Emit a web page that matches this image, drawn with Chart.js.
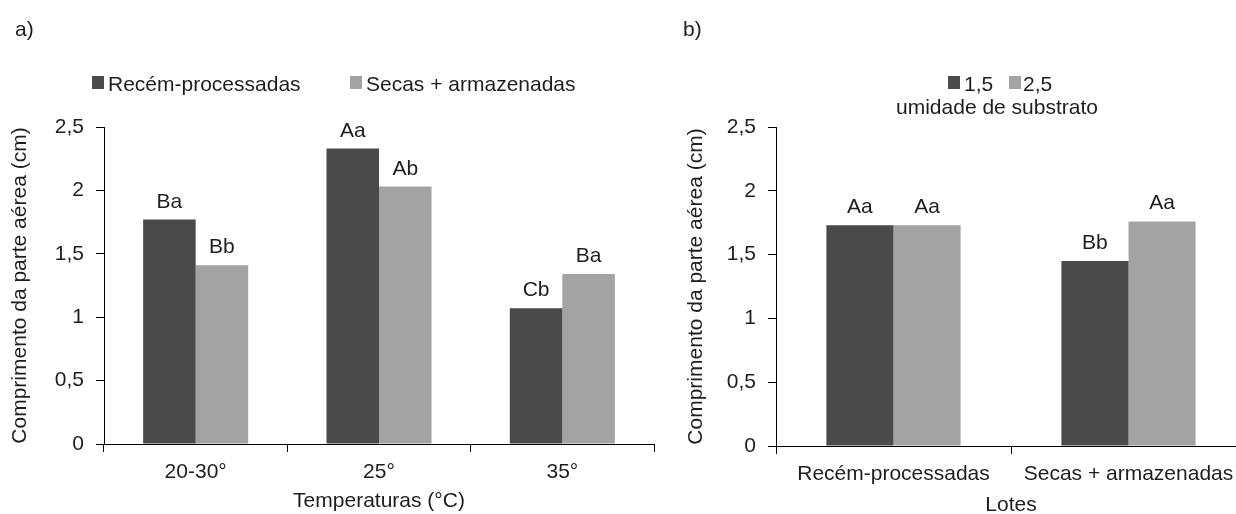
<!DOCTYPE html>
<html lang="pt">
<head>
<meta charset="utf-8">
<script src="https://cdn.jsdelivr.net/npm/chart.js@4/dist/chart.umd.min.js"></script>
<style>
    html, body { margin: 0; padding: 0; background: #fff; }
    #pagina { position: relative; width: 1236px; height: 514px; overflow: hidden; font-family: "Liberation Sans", Arial, sans-serif; color: #1e1e1e; }
    canvas { position: absolute; top: 0; }
    .txt { position: absolute; font-size: 21px; line-height: 21px; white-space: nowrap; }
    .quad { position: absolute; width: 12px; height: 13px; }
</style>
</head>
<body>
<div id="pagina">
    <canvas id="graficoA" width="656" height="514" style="left:0"></canvas>
    <canvas id="graficoB" width="572" height="518" style="left:676px"></canvas>

    <div class="txt" style="left:15px; top:18px">a)</div>
    <div class="txt" style="left:683px; top:18px">b)</div>

    <!-- legenda a -->
    <div class="quad" style="left:92px; top:76px; background:#4a4a4a"></div>
    <div class="txt" style="left:108px; top:73px">Recém-processadas</div>
    <div class="quad" style="left:350px; top:76px; background:#a3a3a3"></div>
    <div class="txt" style="left:366px; top:73px">Secas + armazenadas</div>

    <!-- legenda b -->
    <div class="quad" style="left:948px; top:76px; background:#4a4a4a"></div>
    <div class="txt" style="left:964px; top:73px">1,5</div>
    <div class="quad" style="left:1009px; top:76px; background:#a3a3a3"></div>
    <div class="txt" style="left:1023px; top:73px">2,5</div>
    <div class="txt" style="left:896px; top:96px">umidade de substrato</div>
</div>

<script>
// Dados
const categoriasA = ["20-30°", "25°", "35°"];
const recemA = [1.77, 2.33, 1.07];
const secasA = [1.41, 2.03, 1.34];
const letrasRecemA = ["Ba", "Aa", "Cb"];
const letrasSecasA = ["Bb", "Ab", "Ba"];

const categoriasB = ["Recém-processadas", "Secas + armazenadas"];
const umidade15 = [1.73, 1.45];
const umidade25 = [1.73, 1.76];
const letras15 = ["Aa", "Bb"];
const letras25 = ["Aa", "Aa"];

const rotulosY = ["0", "0,5", "1", "1,5", "2", "2,5"];

const COR_ESCURA = "#4a4a4a";
const COR_CLARA = "#a3a3a3";
const FONTE = { family: '"Liberation Sans", Arial, sans-serif', size: 21 };

// Letras acima das barras
const pluginLetras = {
    id: "letrasBarras",
    afterDatasetsDraw(chart, args, opts) {
        const ctx = chart.ctx;
        ctx.save();
        ctx.font = "21px " + FONTE.family;
        ctx.fillStyle = "#1e1e1e";
        ctx.textAlign = "center";
        ctx.textBaseline = "alphabetic";
        chart.data.datasets.forEach((ds, di) => {
            chart.getDatasetMeta(di).data.forEach((barra, i) => {
                ctx.fillText(opts.letras[di][i], barra.x, barra.y - 12);
            });
        });
        ctx.restore();
    }
};

function montarGrafico(id, categorias, serie1, serie2, letras, tituloX, larguraY, alturaX, percCat) {
    return new Chart(document.getElementById(id), {
        type: "bar",
        data: {
            labels: categorias,
            datasets: [
                { data: serie1, backgroundColor: COR_ESCURA, borderWidth: 0, categoryPercentage: percCat, barPercentage: 1 },
                { data: serie2, backgroundColor: COR_CLARA, borderWidth: 0, categoryPercentage: percCat, barPercentage: 1 }
            ]
        },
        options: {
            responsive: false,
            animation: false,
            devicePixelRatio: 1,
            layout: { padding: { top: 127, right: 2, left: 0, bottom: 0 } },
            plugins: {
                legend: { display: false },
                tooltip: { enabled: false },
                letrasBarras: { letras: letras }
            },
            scales: {
                x: {
                    grid: { drawOnChartArea: false, drawTicks: true, tickLength: 8, color: "#000", offset: true },
                    border: { color: "#000", width: 1 },
                    ticks: { color: "#1e1e1e", font: FONTE, padding: 8, maxRotation: 0 },
                    title: { display: true, text: tituloX, color: "#1e1e1e", font: FONTE, padding: { top: 0, bottom: 0 } },
                    afterFit: s => { s.height = alturaX; }
                },
                y: {
                    min: 0,
                    max: 2.5,
                    grid: { drawOnChartArea: false, drawTicks: true, tickLength: 8, color: "#000" },
                    border: { color: "#000", width: 1 },
                    ticks: { stepSize: 0.5, color: "#1e1e1e", font: FONTE, padding: 12, callback: (v, i) => rotulosY[i] },
                    title: { display: true, text: "Comprimento da parte aérea (cm)", color: "#1e1e1e", font: FONTE, padding: { top: 8, bottom: 0 } },
                    afterFit: s => { s.width = larguraY; }
                }
            }
        },
        plugins: [pluginLetras]
    });
}

montarGrafico("graficoA", categoriasA, recemA, secasA, [letrasRecemA, letrasSecasA], "Temperaturas (°C)", 104, 70, 0.573);
montarGrafico("graficoB", categoriasB, umidade15, umidade25, [letras15, letras25], "Lotes", 100, 72, 0.571);
</script>
</body>
</html>
